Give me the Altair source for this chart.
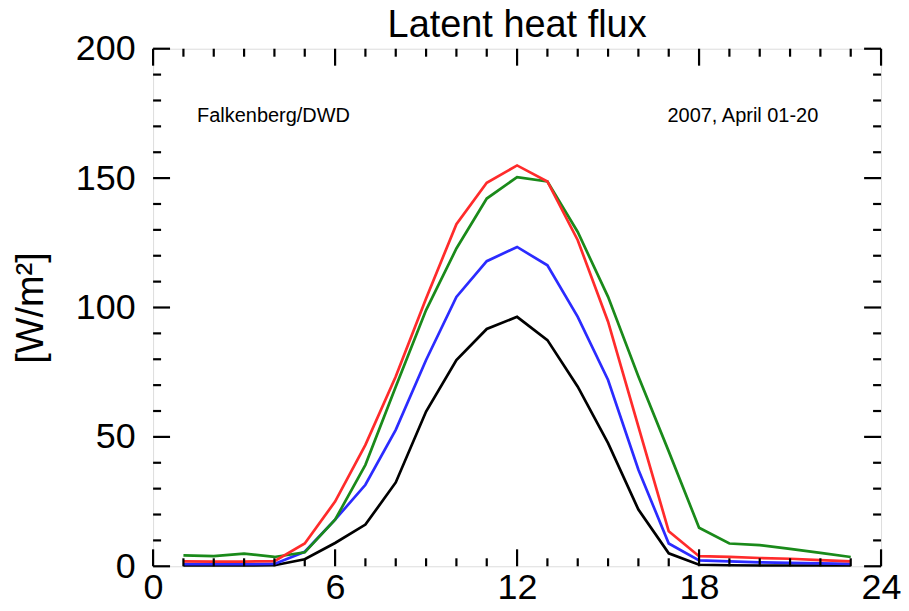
import altair as alt
import pandas as pd

hours = list(range(1, 24))
black = [0.3, 0.3, 0.3, 0.4, 2.7, 9.0, 16.1, 32.4, 59.8, 79.7, 91.7, 96.4, 87.4, 69.4, 47.6, 21.9, 5.0, 0.6, 0.4, 0.3, 0.3, 0.3, 0.3]
blue = [0.8, 0.8, 0.8, 0.9, 5.6, 18.0, 31.5, 52.7, 79.7, 104.1, 117.9, 123.4, 116.3, 96.4, 72.0, 37.3, 8.8, 2.3, 1.9, 1.5, 1.3, 1.1, 0.9]
green = [4.2, 3.9, 4.9, 3.6, 5.4, 18.0, 39.2, 69.4, 99.0, 122.8, 142.1, 150.4, 148.7, 129.2, 104.1, 73.3, 44.4, 14.9, 8.8, 8.2, 6.7, 5.2, 3.6]
red = [1.9, 1.8, 1.8, 2.0, 8.8, 25.0, 46.9, 73.3, 103.5, 132.2, 148.2, 154.9, 148.7, 126.0, 94.5, 54.0, 13.5, 3.9, 3.6, 3.2, 2.9, 2.4, 1.9]

series_names = ["black", "blue", "green", "red"]
series_colors = ["#000000", "#2b2bff", "#1a8a1a", "#ff2b2b"]

x_major = [0, 6, 12, 18, 24]
x_minor = [h for h in range(1, 24) if h % 6 != 0]
y_major = [0, 50, 100, 150, 200]
y_minor = [v for v in range(10, 200, 10) if v % 50 != 0]

annot_left = "Falkenberg/DWD"
annot_right = "2007, April 01-20"

rows = []
for name, vals in zip(series_names, [black, blue, green, red]):
    for h, v in zip(hours, vals):
        rows.append({"hour": h, "flux": v, "series": name})
df = pd.DataFrame(rows)

W, H = 730, 519
FONT = "Liberation Sans"
xscale = alt.Scale(domain=[0, 24], nice=False, zero=False)
yscale = alt.Scale(domain=[0, 200], nice=False)

lines = alt.Chart(df).mark_line(strokeWidth=2.7).encode(
    x=alt.X("hour:Q", scale=xscale,
            axis=alt.Axis(values=x_major, labelFontSize=36, labelFont=FONT, labelColor="black",
                          tickSize=0, domain=False, grid=False, title=None, labelPadding=4,
                          labelFlush=False)),
    y=alt.Y("flux:Q", scale=yscale,
            axis=alt.Axis(values=y_major, labelFontSize=36, labelFont=FONT, labelColor="black",
                          tickSize=0, domain=False, grid=False, title="[W/m²]",
                          titleFontSize=38, titleFont=FONT, titleFontWeight="normal",
                          titleColor="black", labelPadding=18, titlePadding=25)),
    color=alt.Color("series:N", scale=alt.Scale(domain=series_names, range=series_colors), legend=None),
)

def xticks(vals, length):
    d = pd.DataFrame({"hour": vals})
    bottom = alt.Chart(d).mark_rule(color="black", strokeWidth=2.2).encode(
        x=alt.X("hour:Q", scale=xscale), y=alt.value(H), y2=alt.value(H - length))
    top = alt.Chart(d).mark_rule(color="black", strokeWidth=2.2).encode(
        x=alt.X("hour:Q", scale=xscale), y=alt.value(0), y2=alt.value(length))
    return [bottom, top]

def yticks(vals, length):
    d = pd.DataFrame({"flux": vals})
    left = alt.Chart(d).mark_rule(color="black", strokeWidth=2.2).encode(
        y=alt.Y("flux:Q", scale=yscale), x=alt.value(0), x2=alt.value(length))
    right = alt.Chart(d).mark_rule(color="black", strokeWidth=2.2).encode(
        y=alt.Y("flux:Q", scale=yscale), x=alt.value(W), x2=alt.value(W - length))
    return [left, right]

ticks = xticks(x_major, 17) + xticks(x_minor, 8) + yticks(y_major, 17) + yticks(y_minor, 8)

tl = pd.DataFrame({"hour": [1.45], "flux": [174], "label": [annot_left]})
tr = pd.DataFrame({"hour": [21.93], "flux": [174], "label": [annot_right]})
text_l = alt.Chart(tl).mark_text(align="left", baseline="middle", fontSize=20, font=FONT, color="black").encode(
    x=alt.X("hour:Q", scale=xscale), y=alt.Y("flux:Q", scale=yscale), text="label:N")
text_r = alt.Chart(tr).mark_text(align="right", baseline="middle", fontSize=20, font=FONT, color="black").encode(
    x=alt.X("hour:Q", scale=xscale), y=alt.Y("flux:Q", scale=yscale), text="label:N")

chart = alt.layer(lines, *ticks, text_l, text_r).properties(
    width=W, height=H,
    title=alt.TitleParams("Latent heat flux", fontSize=38, font=FONT, fontWeight="normal",
                          color="black", anchor="middle", offset=-14),
    autosize=alt.AutoSizeParams(type="none"),
    padding={"left": 145.5, "top": 40, "right": 20, "bottom": 40},
).configure_view(stroke="black", strokeWidth=2.5).configure(background="white")

chart.save("out.html", embed_options={"renderer": "svg", "actions": False})
